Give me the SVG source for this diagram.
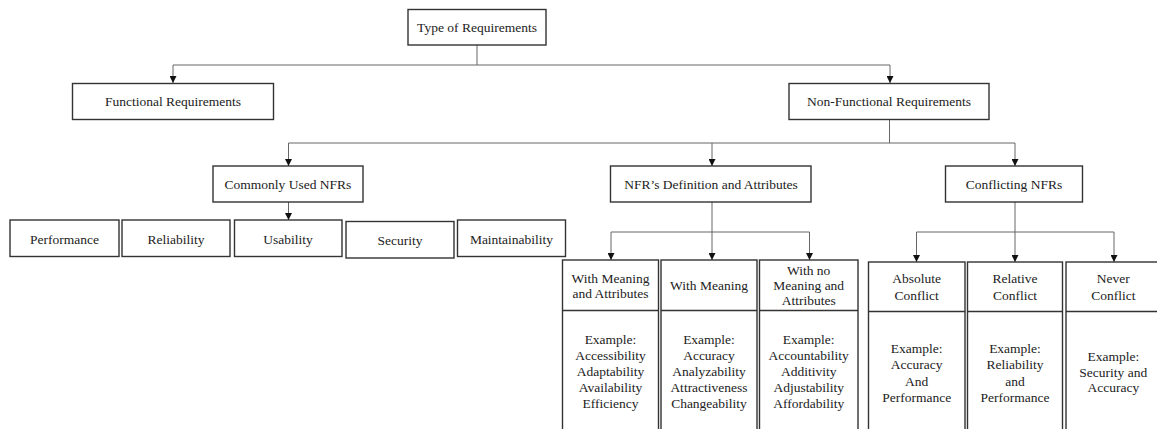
<svg xmlns="http://www.w3.org/2000/svg" width="1157" height="429" viewBox="0 0 1157 429">
  <defs>
    <marker id="arr" viewBox="0 0 8 8" refX="8" refY="4" markerWidth="7" markerHeight="7" markerUnits="userSpaceOnUse" orient="auto">
      <path d="M0,0 L8,4 L0,8 z" fill="#111"/>
    </marker>
  </defs>
  <style>
    rect { fill: #fff; stroke: #333; stroke-width: 1.4; }
    line.div { stroke: #333; stroke-width: 1.4; }
    text { font-family: "Liberation Serif", "Times New Roman", serif; font-size: 13.5px; fill: #222; text-anchor: middle; }
    .conn path { fill: none; stroke: #666; stroke-width: 1; }
    .conn path.a { marker-end: url(#arr); }
  </style>
  <rect x="0" y="0" width="1157" height="429" style="fill:#fff;stroke:none"/>

  <g id="connectors" class="conn">
    <path d="M477,45 V65 M173,65 H890"/>
    <path class="a" d="M173,65 V83"/>
    <path class="a" d="M890,65 V83"/>
    <path d="M889.5,119.5 V143 M288.5,143 H1015"/>
    <path class="a" d="M288.5,143 V166"/>
    <path class="a" d="M712,143 V166"/>
    <path class="a" d="M1015,143 V166"/>
    <path class="a" d="M288.5,202 V220"/>
    <path d="M712,202 V232 M611,232 H809.5"/>
    <path class="a" d="M611,232 V260"/>
    <path class="a" d="M712,232 V260"/>
    <path class="a" d="M809.5,232 V260"/>
    <path d="M1015,202 V232 M916.5,232 H1114"/>
    <path class="a" d="M916.5,232 V262"/>
    <path class="a" d="M1015,232 V262"/>
    <path class="a" d="M1114,232 V262"/>
  </g>

  <g id="type-of-requirements">
    <rect x="408" y="9.5" width="138" height="35.5"/>
    <text x="477" y="31.5">Type of Requirements</text>
  </g>
  <g id="functional">
    <rect x="72.5" y="83.5" width="201" height="36"/>
    <text x="173" y="106">Functional Requirements</text>
  </g>
  <g id="non-functional">
    <rect x="789" y="83.5" width="200" height="36"/>
    <text x="889" y="106">Non-Functional Requirements</text>
  </g>
  <g id="commonly-used">
    <rect x="213" y="166" width="150" height="36"/>
    <text x="288" y="188.5">Commonly Used NFRs</text>
  </g>
  <g id="definition">
    <rect x="610.5" y="166" width="200.5" height="36"/>
    <text x="711" y="188.5">NFR’s Definition and Attributes</text>
  </g>
  <g id="conflicting">
    <rect x="945.5" y="166" width="137" height="36"/>
    <text x="1014" y="188.5">Conflicting NFRs</text>
  </g>

  <g id="performance">
    <rect x="10" y="220" width="109" height="36.5"/>
    <text x="64.5" y="243.5">Performance</text>
  </g>
  <g id="reliability">
    <rect x="122" y="220" width="108" height="36.5"/>
    <text x="176" y="243.5">Reliability</text>
  </g>
  <g id="usability">
    <rect x="234.5" y="220" width="107.5" height="36.5"/>
    <text x="288" y="243.5">Usability</text>
  </g>
  <g id="security">
    <rect x="346" y="221.5" width="108" height="36.5"/>
    <text x="400" y="245">Security</text>
  </g>
  <g id="maintainability">
    <rect x="457.5" y="220" width="108" height="36.5"/>
    <text x="511.5" y="243.5">Maintainability</text>
  </g>

  <g id="with-meaning-and-attributes">
    <rect x="562.5" y="260" width="96" height="180"/>
    <line class="div" x1="562.5" y1="310.5" x2="658.5" y2="310.5"/>
    <text x="610.5" y="282.5">With Meaning</text>
    <text x="610.5" y="298">and Attributes</text>
    <text x="610.5" y="344">Example:</text>
    <text x="610.5" y="360">Accessibility</text>
    <text x="610.5" y="376">Adaptability</text>
    <text x="610.5" y="392">Availability</text>
    <text x="610.5" y="408">Efficiency</text>
  </g>
  <g id="with-meaning">
    <rect x="661" y="260" width="96" height="180"/>
    <line class="div" x1="661" y1="310.5" x2="757" y2="310.5"/>
    <text x="709" y="289.5">With Meaning</text>
    <text x="709" y="344">Example:</text>
    <text x="709" y="360">Accuracy</text>
    <text x="709" y="376">Analyzability</text>
    <text x="709" y="392">Attractiveness</text>
    <text x="709" y="408">Changeability</text>
  </g>
  <g id="with-no-meaning">
    <rect x="759.5" y="260" width="98.5" height="180"/>
    <line class="div" x1="759.5" y1="310.5" x2="858" y2="310.5"/>
    <text x="808.7" y="275">With no</text>
    <text x="808.7" y="290">Meaning and</text>
    <text x="808.7" y="305">Attributes</text>
    <text x="808.7" y="344">Example:</text>
    <text x="808.7" y="360">Accountability</text>
    <text x="808.7" y="376">Additivity</text>
    <text x="808.7" y="392">Adjustability</text>
    <text x="808.7" y="408">Affordability</text>
  </g>
  <g id="absolute-conflict">
    <rect x="868.5" y="262" width="96.5" height="180"/>
    <line class="div" x1="868.5" y1="311.5" x2="965" y2="311.5"/>
    <text x="916.7" y="283">Absolute</text>
    <text x="916.7" y="299.5">Conflict</text>
    <text x="916.7" y="352.5">Example:</text>
    <text x="916.7" y="369">Accuracy</text>
    <text x="916.7" y="385.5">And</text>
    <text x="916.7" y="402">Performance</text>
  </g>
  <g id="relative-conflict">
    <rect x="967.5" y="262" width="95" height="180"/>
    <line class="div" x1="967.5" y1="311.5" x2="1062.5" y2="311.5"/>
    <text x="1015" y="283">Relative</text>
    <text x="1015" y="299.5">Conflict</text>
    <text x="1015" y="352.5">Example:</text>
    <text x="1015" y="369">Reliability</text>
    <text x="1015" y="385.5">and</text>
    <text x="1015" y="402">Performance</text>
  </g>
  <g id="never-conflict">
    <rect x="1066" y="262" width="96" height="180"/>
    <line class="div" x1="1066" y1="311.5" x2="1162" y2="311.5"/>
    <text x="1113.3" y="283">Never</text>
    <text x="1113.3" y="299.5">Conflict</text>
    <text x="1113.3" y="360.5">Example:</text>
    <text x="1113.3" y="376.5">Security and</text>
    <text x="1113.3" y="392">Accuracy</text>
  </g>
</svg>
